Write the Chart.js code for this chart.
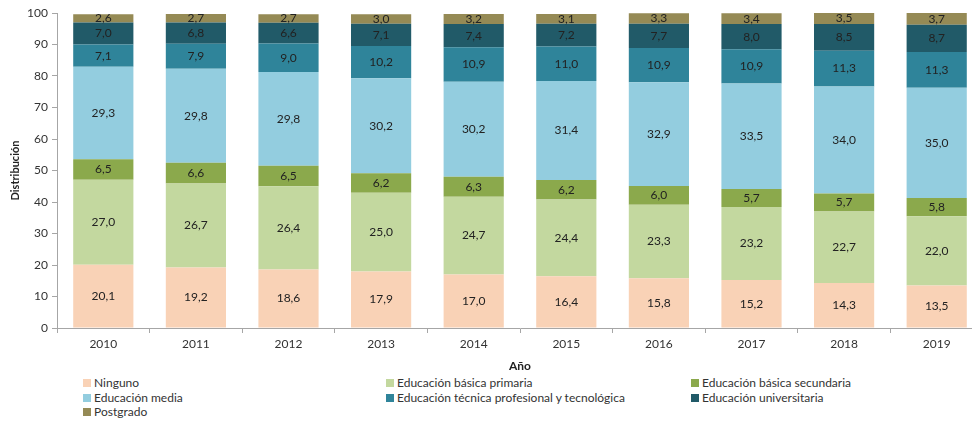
<!DOCTYPE html>
<html>
<head>
<meta charset="utf-8">
<script src="https://cdn.jsdelivr.net/npm/chart.js@4.4.0/dist/chart.umd.min.js"></script>
<style>
  html, body { margin: 0; padding: 0; background: #fff; overflow: hidden; width: 972px; height: 423px; }
  #wrap { position: absolute; left: 0; top: 0; width: 986px; height: 373px; }
  #legend { position: absolute; left: 83px; top: 376px; display: grid; grid-template-columns: 303px 305px 280px; row-gap: 0; font-family: Lato, "Open Sans", sans-serif; font-size: 12px; color: #333; line-height: 14.5px; }
  #legend span.box { display: inline-block; width: 8px; height: 8px; margin-right: 3px; vertical-align: 0px; }
</style>
</head>
<body>
<div id="wrap"><canvas id="c" width="986" height="373"></canvas></div>
<div id="legend"></div>
<script>
const years = ['2010', '2011', '2012', '2013', '2014', '2015', '2016', '2017', '2018', '2019'];

const ninguno       = [20.1, 19.2, 18.6, 17.9, 17.0, 16.4, 15.8, 15.2, 14.3, 13.5];
const primaria      = [27.0, 26.7, 26.4, 25.0, 24.7, 24.4, 23.3, 23.2, 22.7, 22.0];
const secundaria    = [6.5, 6.6, 6.5, 6.2, 6.3, 6.2, 6.0, 5.7, 5.7, 5.8];
const media         = [29.3, 29.8, 29.8, 30.2, 30.2, 31.4, 32.9, 33.5, 34.0, 35.0];
const tecnica       = [7.1, 7.9, 9.0, 10.2, 10.9, 11.0, 10.9, 10.9, 11.3, 11.3];
const universitaria = [7.0, 6.8, 6.6, 7.1, 7.4, 7.2, 7.7, 8.0, 8.5, 8.7];
const postgrado     = [2.6, 2.7, 2.7, 3.0, 3.2, 3.1, 3.3, 3.4, 3.5, 3.7];

const yTicks = [0, 10, 20, 30, 40, 50, 60, 70, 80, 90, 100];

const series = [
    { label: 'Ninguno', data: ninguno, color: '#f9d2b6' },
    { label: 'Educación básica primaria', data: primaria, color: '#c3d89f' },
    { label: 'Educación básica secundaria', data: secundaria, color: '#8ba94c' },
    { label: 'Educación media', data: media, color: '#93cddf' },
    { label: 'Educación técnica profesional y tecnológica', data: tecnica, color: '#2f849a' },
    { label: 'Educación universitaria', data: universitaria, color: '#215a68' },
    { label: 'Postgrado', data: postgrado, color: '#958a55' }
];

const FONT = 'Lato, "Open Sans", sans-serif';

// writes the value in the middle of each segment
const segmentLabels = {
    id: 'segmentLabels',
    afterDatasetsDraw(chart) {
        const ctx = chart.ctx;
        ctx.save();
        ctx.font = '12px ' + FONT;
        ctx.fillStyle = '#222';
        ctx.textAlign = 'center';
        ctx.textBaseline = 'middle';
        chart.data.datasets.forEach((ds, i) => {
            chart.getDatasetMeta(i).data.forEach((bar, j) => {
                const mid = (bar.y + bar.base) / 2;
                ctx.fillText(ds.data[j].toFixed(1).replace('.', ','), bar.x, mid);
            });
        });
        ctx.restore();
    }
};

new Chart(document.getElementById('c'), {
    type: 'bar',
    data: {
        labels: years,
        datasets: series.map(s => ({
            label: s.label,
            data: s.data,
            backgroundColor: s.color,
            borderWidth: 0,
            categoryPercentage: 1,
            barPercentage: 0.65
        }))
    },
    options: {
        responsive: false,
        animation: false,
        layout: { padding: { top: 13, right: 3, left: 0, bottom: 0 } },
        plugins: {
            legend: { display: false },
            tooltip: { enabled: false }
        },
        scales: {
            x: {
                stacked: true,
                grid: { offset: true, drawOnChartArea: false, drawTicks: true, tickLength: 5, color: '#a6a6a6' },
                border: { color: '#a6a6a6', width: 1 },
                ticks: { color: '#333', font: { family: FONT, size: 12 }, padding: 4 },
                title: { display: true, text: 'Año', color: '#222', font: { family: FONT, size: 12, weight: 'bold' }, padding: { top: 4, bottom: 0 } },
                afterFit(scale) { scale.height = 45; }
            },
            y: {
                stacked: true,
                min: 0,
                max: 100,
                afterBuildTicks(scale) { scale.ticks = yTicks.map(v => ({ value: v })); },
                grid: { drawOnChartArea: false, drawTicks: true, tickLength: 5, color: '#a6a6a6' },
                border: { color: '#a6a6a6', width: 1 },
                ticks: { color: '#333', font: { family: FONT, size: 12 }, padding: 4 },
                title: { display: true, text: 'Distribución', color: '#222', font: { family: FONT, size: 11, weight: 'bold' }, padding: { top: 9, bottom: 2 } },
                afterFit(scale) { scale.width = 57; }
            }
        }
    },
    plugins: [segmentLabels]
});

const legend = document.getElementById('legend');
series.forEach(s => {
    const item = document.createElement('div');
    item.innerHTML = '<span class="box" style="background:' + s.color + '"></span>' + s.label;
    legend.appendChild(item);
});
</script>
</body>
</html>
